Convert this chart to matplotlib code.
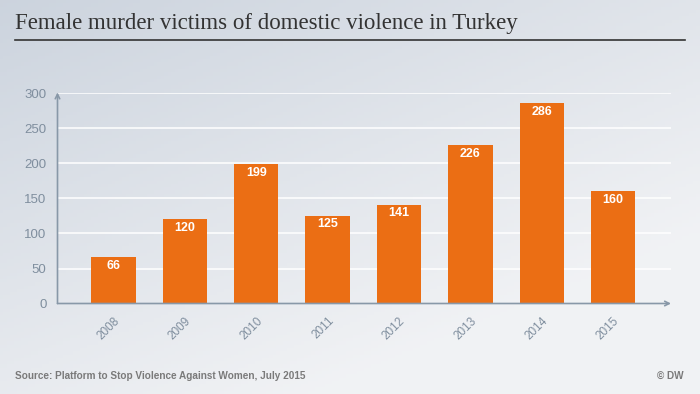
import numpy as np
import matplotlib.pyplot as plt

years = ['2008', '2009', '2010', '2011', '2012', '2013', '2014', '2015']
victims = [66, 120, 199, 125, 141, 226, 286, 160]
yticks = [0, 50, 100, 150, 200, 250, 300]

bar_color = '#eb6e14'
axis_color = '#8898a8'
tick_color = '#7f8e9e'

fig = plt.figure(figsize=(7, 3.94), dpi=100)

# background gradient (darker grey-blue at top-left, lighter at bottom-right)
bg = fig.add_axes([0, 0, 1, 1], zorder=-10)
xx, yy = np.meshgrid(np.linspace(0, 1, 200), np.linspace(0, 1, 120))
t = np.clip(0.55 * xx + 0.75 * yy, 0, 1)
c0 = np.array([0.80, 0.83, 0.87])
c1 = np.array([0.945, 0.95, 0.96])
img = c0[None, None, :] * (1 - t[..., None]) + c1[None, None, :] * t[..., None]
bg.imshow(img, aspect='auto', extent=[0, 1, 0, 1], origin='upper')
bg.axis('off')

# title and rule
fig.text(15 / 700, 1 - 23 / 394, 'Female murder victims of domestic violence in Turkey',
         family='Liberation Serif', fontsize=16.5, color='#333333', va='center', ha='left')
fig.add_artist(plt.Line2D([15 / 700, 685 / 700], [1 - 39.5 / 394, 1 - 39.5 / 394],
                          color='#333333', lw=1.2))

ax = fig.add_axes([57.5 / 700, 1 - 303.5 / 394, (671 - 57.5) / 700, (303.5 - 93.5) / 394])
ax.patch.set_alpha(0)
x = np.arange(len(years))
bars = ax.bar(x, victims, width=0.62, color=bar_color, zorder=3)
for xi, v in zip(x, victims):
    ax.text(xi, v - 12, str(v), ha='center', va='center', color='white',
            fontsize=9, fontweight='bold', family='Liberation Sans', zorder=4)

ax.set_xlim(-0.784, 7.81)
ax.set_ylim(0, 300)
ax.set_yticks(yticks)
for y in yticks[1:]:
    ax.axhline(y, color='white', lw=1.1, zorder=1)

ax.set_xticks(x)
ax.set_xticklabels(years, rotation=45, ha='right', rotation_mode='anchor')
ax.tick_params(axis='x', length=0, pad=8, labelsize=8.5, labelcolor=tick_color)
ax.tick_params(axis='y', length=0, pad=8, labelsize=9.5, labelcolor=tick_color)
for lab in ax.get_xticklabels() + ax.get_yticklabels():
    lab.set_family('Liberation Sans')

for s in ['top', 'right', 'left', 'bottom']:
    ax.spines[s].set_visible(False)

# axes with arrowheads
ax.annotate('', xy=(0, 1.005), xytext=(0, 0), xycoords='axes fraction',
            arrowprops=dict(arrowstyle='->', color=axis_color, lw=1.2,
                            shrinkA=0, shrinkB=0, mutation_scale=8))
ax.annotate('', xy=(1.0, 0), xytext=(0, 0), xycoords='axes fraction',
            arrowprops=dict(arrowstyle='->', color=axis_color, lw=1.2,
                            shrinkA=0, shrinkB=0, mutation_scale=8))

fig.text(15 / 700, 1 - 376 / 394, 'Source: Platform to Stop Violence Against Women, July 2015',
         family='Liberation Sans', fontweight='bold', fontsize=7.2, color='#7a7a7a',
         va='center', ha='left')
fig.text(684 / 700, 1 - 376 / 394, '© DW', family='Liberation Sans', fontweight='bold',
         fontsize=7.2, color='#7a7a7a', va='center', ha='right')

fig.savefig('out.png', dpi=100)
